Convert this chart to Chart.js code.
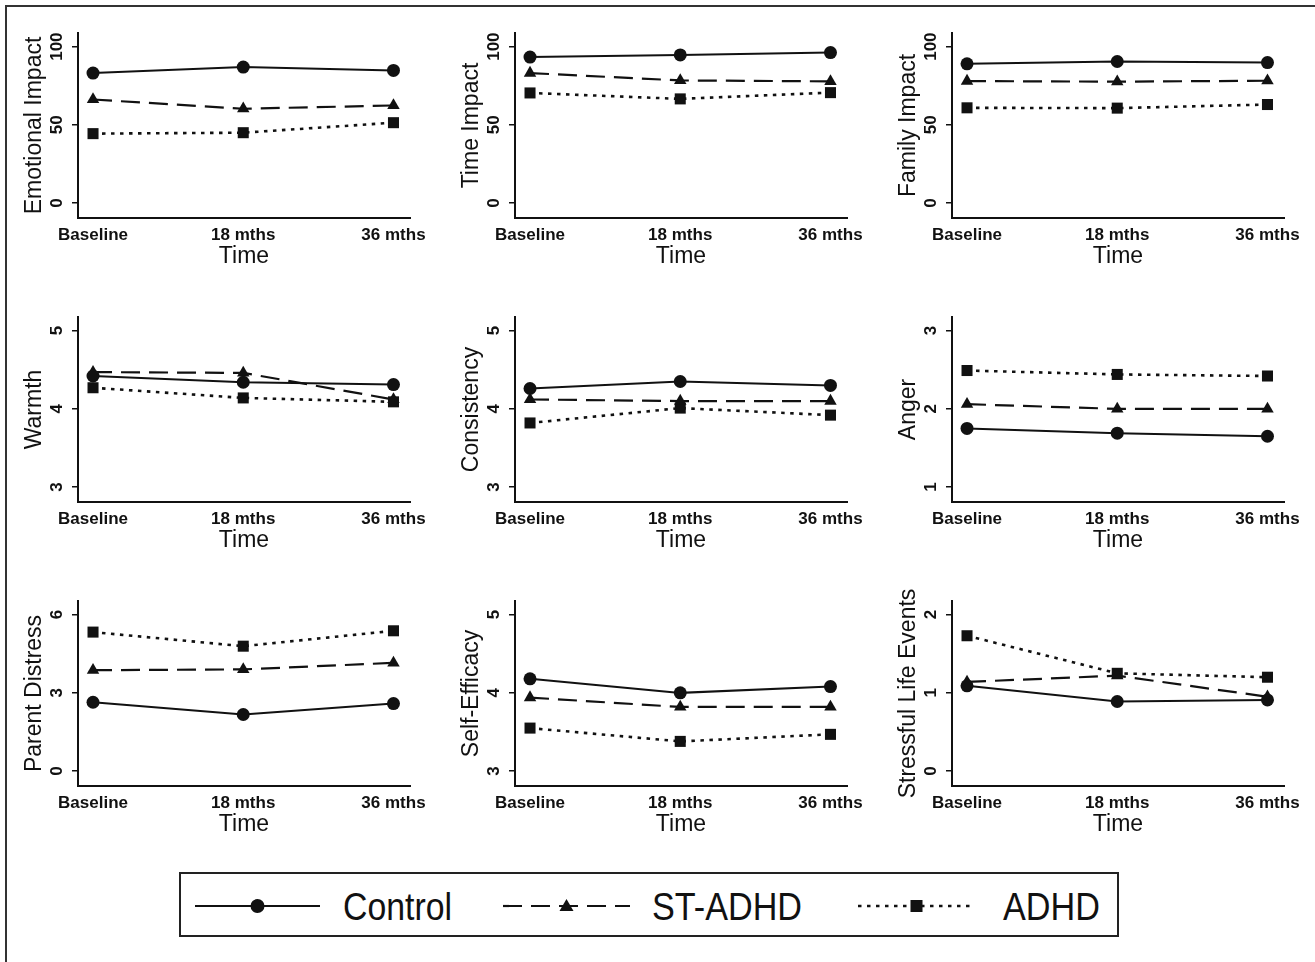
<!DOCTYPE html>
<html>
<head>
<meta charset="utf-8">
<script src="https://cdn.jsdelivr.net/npm/chart.js@4.4.1/dist/chart.umd.min.js"></script>
<style>
body{margin:0;background:#fff;width:1315px;height:962px;overflow:hidden;position:relative;font-family:"Liberation Sans",Arial,sans-serif}
#frame{position:absolute;left:5px;top:5px;width:1400px;height:1100px;border:2px solid #333}
.panel{position:absolute;width:437px;height:284px}
#legend{position:absolute;left:179px;top:872px}
</style>
</head>
<body>
<div id="frame"></div>
<div id="panels"></div>
<svg id="legend" width="942" height="66"></svg>
<script>
const timeLabels = ['Baseline', '18 mths', '36 mths'];
const groupNames = ['Control', 'ST-ADHD', 'ADHD'];

const panelTitles = [
	'Emotional Impact', 'Time Impact', 'Family Impact',
	'Warmth', 'Consistency', 'Anger',
	'Parent Distress', 'Self-Efficacy', 'Stressful Life Events'
];
const panelTicks = [
	[0, 50, 100], [0, 50, 100], [0, 50, 100],
	[3, 4, 5], [3, 4, 5], [1, 2, 3],
	[0, 3, 6], [3, 4, 5], [0, 1, 2]
];

// one row per panel: Baseline, 18 mths, 36 mths
const controlValues = [
	[83.1, 86.9, 84.8], [93.3, 94.7, 96.2], [89.0, 90.5, 89.8],
	[4.42, 4.34, 4.31], [4.26, 4.35, 4.30], [1.75, 1.69, 1.65],
	[2.64, 2.17, 2.59], [4.18, 4.00, 4.08], [1.09, 0.89, 0.91]
];
const stAdhdValues = [
	[66.2, 60.3, 62.4], [83.1, 78.4, 77.8], [78.0, 77.6, 78.2],
	[4.47, 4.46, 4.12], [4.12, 4.10, 4.10], [2.06, 2.00, 2.00],
	[3.87, 3.90, 4.15], [3.94, 3.82, 3.82], [1.14, 1.22, 0.95]
];
const adhdValues = [
	[44.4, 45.0, 51.4], [70.4, 66.6, 70.6], [60.9, 60.7, 63.0],
	[4.27, 4.14, 4.09], [3.82, 4.01, 3.92], [2.49, 2.44, 2.42],
	[5.33, 4.79, 5.38], [3.55, 3.38, 3.47], [1.73, 1.25, 1.20]
];

const ink = '#111';
const lineDashes = [[], [19, 9], [3.5, 5.5]];
const lineWidths = [2, 2.2, 2.6];
const pointStyles = ['circle', 'triangle', 'rect'];
const pointSizes = [6.5, 7.2, 7.8];

const tickFont = {family: '"Liberation Sans", Arial, sans-serif', size: 17, weight: 'bold'};
const titleFont = {family: '"Liberation Sans", Arial, sans-serif', size: 23};

var measureCtx = document.createElement('canvas').getContext('2d');
measureCtx.font = 'bold 17px "Liberation Sans"';

function makePanel(idx){
	var col = idx % 3, row = Math.floor(idx / 3);
	var canvas = document.createElement('canvas');
	canvas.className = 'panel';
	canvas.width = 437;
	canvas.height = 284;
	canvas.style.left = (col * 437) + 'px';
	canvas.style.top = (row * 284) + 'px';
	document.getElementById('panels').appendChild(canvas);

	var ticks = panelTicks[idx];
	var lo = ticks[0], hi = ticks[ticks.length - 1], span = hi - lo;
	var widest = Math.max.apply(null, ticks.map(t => measureCtx.measureText(String(t)).width));
	var series = [controlValues[idx], stAdhdValues[idx], adhdValues[idx]];

	new Chart(canvas, {
		type: 'line',
		data: {
			datasets: series.map((vals, g) => ({
				label: groupNames[g],
				data: vals.map((v, i) => ({x: i, y: v})),
				borderColor: ink,
				backgroundColor: ink,
				borderWidth: lineWidths[g],
				borderDash: lineDashes[g],
				pointStyle: pointStyles[g],
				pointRadius: pointSizes[g],
				pointBorderWidth: 0,
				tension: 0,
				fill: false
			}))
		},
		options: {
			animation: false,
			responsive: false,
			events: [],
			layout: {padding: {top: 33, right: 27, left: 0, bottom: 0}},
			plugins: {legend: {display: false}, tooltip: {enabled: false}},
			scales: {
				x: {
					type: 'linear',
					min: -0.1,
					max: 2.11,
					afterBuildTicks: s => { s.ticks = timeLabels.map((_, i) => ({value: i})); },
					afterFit: s => { s.height = 66; },
					ticks: {callback: v => timeLabels[v], font: tickFont, color: ink, padding: 7, maxRotation: 0, autoSkip: false},
					grid: {display: false, drawTicks: false},
					border: {display: true, color: ink, width: 2},
					title: {display: true, text: 'Time', font: titleFont, color: ink, padding: {top: 0, bottom: 14}}
				},
				y: {
					type: 'linear',
					min: lo - 0.095 * span,
					max: hi + 0.087 * span,
					afterBuildTicks: s => { s.ticks = ticks.map(t => ({value: t})); },
					afterFit: s => { s.width = 78; },
					ticks: {font: tickFont, color: ink, minRotation: 90, maxRotation: 90, crossAlign: 'center', padding: Math.max(0, 14.5 - widest / 2)},
					grid: {display: true, drawOnChartArea: false, drawTicks: true, tickLength: 6, color: ink, lineWidth: 1.5},
					border: {display: true, color: ink, width: 2},
					title: {display: true, text: panelTitles[idx], font: titleFont, color: ink, padding: {top: 21, bottom: 0}}
				}
			}
		}
	});
}

panelTitles.forEach((_, i) => makePanel(i));

// shared legend
var svgNS = 'http://www.w3.org/2000/svg';
var legend = document.getElementById('legend');
function el(tag, attrs){
	var e = document.createElementNS(svgNS, tag);
	for(var k in attrs){ e.setAttribute(k, attrs[k]); }
	legend.appendChild(e);
	return e;
}
el('rect', {x: 1, y: 1, width: 938, height: 63, fill: '#fff', stroke: '#222', 'stroke-width': 2});
var sampleX = [[16, 141], [324, 451], [679, 796]];
var textX = [164, 473, 824];
var textW = [109, 150, 97];
var cy = 34;
groupNames.forEach((name, g) => {
	var x0 = sampleX[g][0], x1 = sampleX[g][1], mx = (x0 + x1) / 2;
	el('line', {x1: x0, y1: cy, x2: x1, y2: cy, stroke: ink, 'stroke-width': lineWidths[g],
		'stroke-dasharray': lineDashes[g].length ? lineDashes[g].join(' ') : 'none'});
	if(g === 0) el('circle', {cx: mx, cy: cy, r: 7, fill: ink});
	if(g === 1) el('polygon', {points: (mx - 7) + ',' + (cy + 5) + ' ' + (mx + 7) + ',' + (cy + 5) + ' ' + mx + ',' + (cy - 7), fill: ink});
	if(g === 2) el('rect', {x: mx - 6, y: cy - 6, width: 12, height: 12, fill: ink});
	var t = el('text', {x: textX[g], y: cy + 14, 'font-size': 38, 'font-family': '"Liberation Sans", Arial, sans-serif',
		fill: ink, textLength: textW[g], lengthAdjust: 'spacingAndGlyphs'});
	t.textContent = name;
});
</script>
</body>
</html>
